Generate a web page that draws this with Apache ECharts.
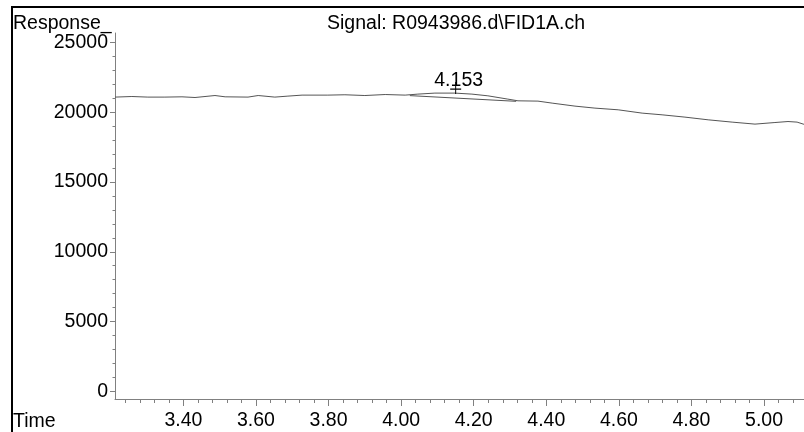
<!DOCTYPE html>
<html>
<head>
<meta charset="utf-8">
<script src="https://cdn.jsdelivr.net/npm/echarts@6.0.0/dist/echarts.min.js"></script>
<style>
html,body{margin:0;padding:0;background:#fff;}
#chart{width:804px;height:432px;}
</style>
</head>
<body>
<div id="chart"></div>
<script>
// ---- data ----
var signalTimes = [3.2115, 3.258, 3.302, 3.349, 3.396, 3.432, 3.487, 3.515, 3.578, 3.606,
  3.652, 3.688, 3.727, 3.798, 3.845, 3.900, 3.956, 4.011, 4.046, 4.093,
  4.148, 4.195, 4.239, 4.294, 4.322, 4.377, 4.416, 4.479, 4.534, 4.598,
  4.664, 4.719, 4.782, 4.846, 4.912, 4.975, 5.030, 5.066, 5.091, 5.110];
var signalValues = [21092, 21135, 21092, 21092, 21113, 21063, 21206, 21113, 21092, 21206,
  21092, 21163, 21235, 21235, 21260, 21206, 21278, 21235, 21307, 21379,
  21379, 21307, 21185, 20948, 20826, 20805, 20661, 20446, 20302, 20181,
  19944, 19822, 19657, 19463, 19298, 19155, 19269, 19341, 19298, 19140];
var baselineTimes = [4.024, 4.317];
var baselineValues = [21199, 20790];
var peakTimes = [4.153];
var peakValues = [21379];
var peakLabels = ['4.153'];

var xMajorTicks = [3.40, 3.60, 3.80, 4.00, 4.20, 4.40, 4.60, 4.80, 5.00];
var xMinorTicks = [3.24, 3.28, 3.32, 3.36, 3.40, 3.44, 3.48, 3.52, 3.56, 3.60,
  3.64, 3.68, 3.72, 3.76, 3.80, 3.84, 3.88, 3.92, 3.96, 4.00,
  4.04, 4.08, 4.12, 4.16, 4.20, 4.24, 4.28, 4.32, 4.36, 4.40,
  4.44, 4.48, 4.52, 4.56, 4.60, 4.64, 4.68, 4.72, 4.76, 4.80,
  4.84, 4.88, 4.92, 4.96, 5.00, 5.04, 5.08];
var yMajorTicks = [0, 5000, 10000, 15000, 20000, 25000];
var yMinorTicks = [0, 1000, 2000, 3000, 4000, 5000, 6000, 7000, 8000, 9000, 10000,
  11000, 12000, 13000, 14000, 15000, 16000, 17000, 18000, 19000, 20000,
  21000, 22000, 23000, 24000, 25000];

var titleText = 'Signal: R0943986.d\\FID1A.ch';
var yName = 'Response_';
var xName = 'Time';

// ---- chart ----
var FONT = '"Liberation Sans", Arial, sans-serif';
var FS = 19.5;
var AX = '#808080';
var LINE = '#555555';
var X_MIN = 3.2115, X_MAX = 5.1101, Y_MIN = -560, Y_MAX = 25690;

function zip(a, b) { return a.map(function (v, i) { return [v, b[i]]; }); }

var chart = echarts.init(document.getElementById('chart'), null, {renderer: 'canvas'});
chart.setOption({
  animation: false,
  backgroundColor: '#ffffff',
  grid: {left: 115, right: 0, top: 33, bottom: 33, containLabel: false},
  xAxis: [{
    type: 'value', min: X_MIN, max: X_MAX, position: 'bottom',
    axisLine: {show: true, onZero: false, lineStyle: {color: AX, width: 1}},
    axisTick: {show: true, customValues: xMajorTicks, length: 7, lineStyle: {color: AX}},
    axisLabel: {show: true, customValues: xMajorTicks, margin: 12, color: '#000',
      fontFamily: FONT, fontSize: FS, formatter: function (v) { return Number(v).toFixed(2); }},
    splitLine: {show: false}
  }, {
    type: 'value', min: X_MIN, max: X_MAX, position: 'bottom',
    axisLine: {show: false, onZero: false},
    axisTick: {show: true, customValues: xMinorTicks, length: 4, lineStyle: {color: AX}},
    axisLabel: {show: false},
    splitLine: {show: false}
  }],
  yAxis: [{
    type: 'value', min: Y_MIN, max: Y_MAX, position: 'left',
    axisLine: {show: true, onZero: false, lineStyle: {color: AX, width: 1}},
    axisTick: {show: true, customValues: yMajorTicks, length: 5, lineStyle: {color: AX}},
    axisLabel: {show: true, customValues: yMajorTicks, margin: 7, color: '#000',
      fontFamily: FONT, fontSize: FS, formatter: function (v) { return String(Math.round(v)); }},
    splitLine: {show: false}
  }, {
    type: 'value', min: Y_MIN, max: Y_MAX, position: 'left',
    axisLine: {show: false, onZero: false},
    axisTick: {show: true, customValues: yMinorTicks, length: 2.5, lineStyle: {color: AX}},
    axisLabel: {show: false},
    splitLine: {show: false}
  }],
  graphic: [
    {type: 'rect', shape: {x: 12, y: 7, width: 820, height: 460}, silent: true,
      style: {fill: 'none', stroke: '#000', lineWidth: 2}},
    {type: 'text', x: 13, y: 23.5, silent: true,
      style: {text: yName, fill: '#000', font: FS + 'px ' + FONT, textAlign: 'left', textVerticalAlign: 'middle'}},
    {type: 'text', x: 13, y: 422, silent: true,
      style: {text: xName, fill: '#000', font: FS + 'px ' + FONT, textAlign: 'left', textVerticalAlign: 'middle'}},
    {type: 'text', x: 456, y: 23.5, silent: true,
      style: {text: titleText, fill: '#000', font: FS + 'px ' + FONT, textAlign: 'center', textVerticalAlign: 'middle'}}
  ],
  series: [{
    type: 'line', name: 'signal', xAxisIndex: 0, yAxisIndex: 0,
    data: zip(signalTimes, signalValues),
    showSymbol: false, symbol: 'none', smooth: false,
    lineStyle: {color: LINE, width: 1},
    markPoint: {
      symbol: 'path://M5,0 L5,12 M0,7 L10,7',
      symbolSize: [11, 12],
      symbolOffset: [-1, -5],
      itemStyle: {color: 'none', borderColor: '#000', borderWidth: 1},
      label: {show: true, position: 'inside', offset: [3, -7], color: '#000',
        fontFamily: FONT, fontSize: FS,
        formatter: function (p) { return peakLabels[p.dataIndex]; }},
      data: peakTimes.map(function (t, i) { return {coord: [t, peakValues[i]], value: peakLabels[i]}; })
    }
  }, {
    type: 'line', name: 'baseline', xAxisIndex: 0, yAxisIndex: 0,
    data: zip(baselineTimes, baselineValues),
    showSymbol: false, symbol: 'none',
    lineStyle: {color: LINE, width: 1}
  }]
});
</script>
</body>
</html>
